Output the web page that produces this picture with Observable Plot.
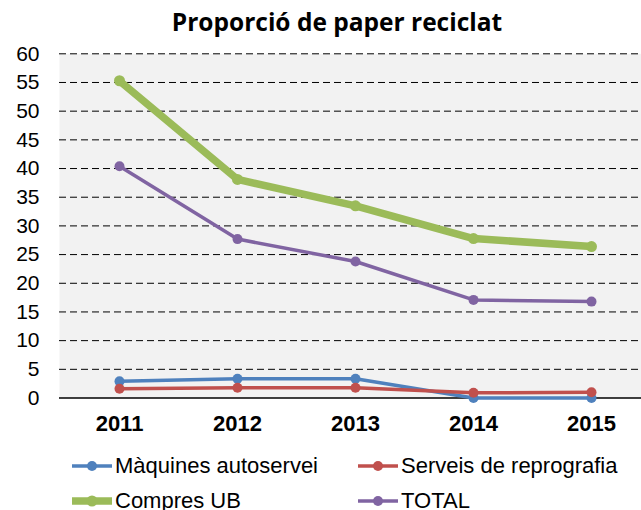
<!DOCTYPE html>
<html><head><meta charset="utf-8">
<script src="https://cdn.jsdelivr.net/npm/d3@7"></script>
<script src="https://cdn.jsdelivr.net/npm/@observablehq/plot@0.6"></script>
<style>
html,body{margin:0;padding:0;background:#fff;overflow:hidden;}
body{width:641px;height:510px;font-family:"Liberation Sans",Arial,sans-serif;}
#title{height:40px;position:relative;}
#title span{position:absolute;left:337px;top:4px;transform:translateX(-50%);font-family:"Open Sans",sans-serif;font-weight:700;font-size:24.5px;line-height:36px;white-space:nowrap;color:#000;}
#chart svg{display:block;}
#legend{position:relative;height:72px;}
.item{position:absolute;display:flex;align-items:center;height:36px;font-size:22px;color:#000;white-space:nowrap;}
.item svg{margin-right:3px;}
</style>
</head><body>
<div id="title"><span>Proporció de paper reciclat</span></div>
<div id="chart"></div>
<div id="legend"></div>
<script>
const years = ["2011", "2012", "2013", "2014", "2015"];
const seriesNames = ["Màquines autoservei", "Serveis de reprografia", "Compres UB", "TOTAL"];
const maquines = [2.9, 3.35, 3.35, 0, 0];
const reprografia = [1.6, 1.8, 1.8, 0.9, 1.0];
const compres = [55.3, 38.1, 33.5, 27.8, 26.4];
const total = [40.4, 27.7, 23.8, 17.1, 16.8];
const yTicks = [0, 5, 10, 15, 20, 25, 30, 35, 40, 45, 50, 55, 60];
const colors = ["#4F81BD", "#C0504D", "#9BBB59", "#8064A2"];
const widths = [3.5, 3.5, 7.5, 3.5];
const radii = [5, 5, 5.5, 5];

const values = [maquines, reprografia, compres, total];
const data = seriesNames.map((s, i) => years.map((y, j) => ({series: s, year: y, value: values[i][j]})));

const marks = [
  Plot.frame({fill: "#F2F2F2", stroke: null}),
  Plot.ruleY(yTicks.filter(d => d > 0), {stroke: "#000", strokeWidth: 1, strokeDasharray: "7,4"}),
  Plot.ruleY([0], {stroke: "#000", strokeWidth: 1.3}),
  Plot.axisY({ticks: yTicks, tickSize: 0, tickPadding: 20, fontSize: 21, tickFormat: d => String(d)}),
  Plot.axisX({tickSize: 0, tickPadding: 17, fontSize: 22, fontWeight: "bold"})
];
data.forEach((rows, i) => {
  marks.push(Plot.line(rows, {x: "year", y: "value", stroke: colors[i], strokeWidth: widths[i], curve: "linear"}));
  marks.push(Plot.dot(rows, {x: "year", y: "value", fill: colors[i], r: radii[i], stroke: null}));
});

const chart = Plot.plot({
  width: 641,
  height: 408,
  marginTop: 13.3,
  marginBottom: 50.5,
  marginLeft: 59,
  marginRight: 0,
  style: {fontFamily: "'Liberation Sans', Arial, sans-serif", color: "#000", background: "transparent", overflow: "visible"},
  x: {type: "point", domain: years, range: [118, 592], padding: 0, label: null},
  y: {domain: [0, 60], label: null},
  marks
});
document.getElementById("chart").appendChild(chart);

const legend = document.getElementById("legend");
const pos = [[72, 0], [358, 0], [72, 35], [358, 35]];
seriesNames.forEach((s, i) => {
  const div = document.createElement("div");
  div.className = "item";
  div.style.left = pos[i][0] + "px";
  div.style.top = pos[i][1] + "px";
  div.innerHTML = `<svg width="40" height="16"><line x1="0" x2="40" y1="8" y2="8" stroke="${colors[i]}" stroke-width="${widths[i]}"/><circle cx="20" cy="8" r="${radii[i]}" fill="${colors[i]}"/></svg><span>${s}</span>`;
  legend.appendChild(div);
});
</script>
</body></html>
